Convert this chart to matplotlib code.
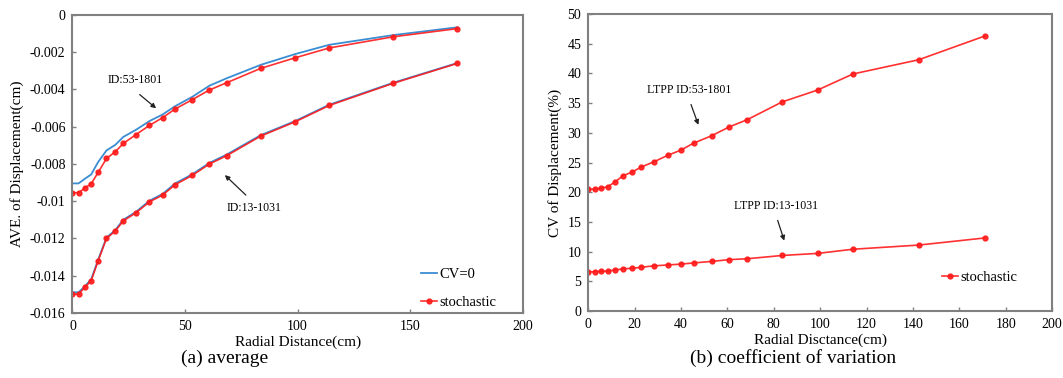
import matplotlib
matplotlib.use("Agg")
import matplotlib.pyplot as plt
import numpy as np

plt.rcParams["font.family"] = ["Liberation Serif", "DejaVu Serif"]

# radial distance of the sensors (cm)
radial = [0, 2.7, 5.5, 8.3, 11.4, 15.1, 19.0, 22.6, 28.2, 34.2, 40.0,
          45.6, 53.2, 60.8, 68.5, 83.6, 98.9, 114.1, 142.5, 171.0]

# (a) average displacement (cm)
ave_53_cv0 = [-0.00905, -0.00905, -0.00880, -0.00857, -0.00790, -0.00728,
              -0.00698, -0.00655, -0.00617, -0.00570, -0.00535, -0.00490,
              -0.00440, -0.00380, -0.00340, -0.00268, -0.00210, -0.00160,
              -0.00108, -0.00066]
ave_53_sto = [-0.00955, -0.00955, -0.00930, -0.00907, -0.00846, -0.00771,
              -0.00735, -0.00690, -0.00643, -0.00593, -0.00552, -0.00505,
              -0.00455, -0.00403, -0.00364, -0.00287, -0.00230, -0.00177,
              -0.00117, -0.00073]
ave_13_cv0 = [-0.01490, -0.01490, -0.01458, -0.01420, -0.01315, -0.01196,
              -0.01156, -0.01100, -0.01058, -0.00998, -0.00962, -0.00905,
              -0.00856, -0.00795, -0.00750, -0.00646, -0.00570, -0.00482,
              -0.00364, -0.00258]
ave_13_sto = [-0.01500, -0.01500, -0.01464, -0.01428, -0.01321, -0.01201,
              -0.01161, -0.01106, -0.01063, -0.01004, -0.00968, -0.00912,
              -0.00862, -0.00801, -0.00756, -0.00651, -0.00574, -0.00486,
              -0.00367, -0.00260]

# (b) coefficient of variation (%)
cv_53 = [20.5, 20.5, 20.7, 20.9, 21.7, 22.8, 23.4, 24.2, 25.1, 26.2, 27.1,
         28.3, 29.5, 31.0, 32.2, 35.2, 37.2, 39.9, 42.3, 46.3]
cv_13 = [6.6, 6.6, 6.7, 6.7, 6.9, 7.1, 7.2, 7.35, 7.6, 7.75, 7.9, 8.1,
         8.35, 8.65, 8.8, 9.35, 9.7, 10.4, 11.1, 12.3]

blue = "#3b8dd2"
red = "#ff1a1a"
spine_col = "#808080"

fig = plt.figure(figsize=(10.63, 3.78), dpi=100)
ax1 = fig.add_axes([0.0682, 0.1727, 0.4235, 0.7876])
ax2 = fig.add_axes([0.5534, 0.1772, 0.4363, 0.7857])

sto_kw = dict(color=red, lw=1.2, marker="o", ms=3.5, alpha=0.9)

ax1.plot(radial, ave_53_cv0, color=blue, lw=1.3, label="CV=0")
ax1.plot(radial, ave_53_sto, label="stochastic", **sto_kw)
ax1.plot(radial, ave_13_cv0, color=blue, lw=1.3)
ax1.plot(radial, ave_13_sto, **sto_kw)

ax1.set_xlim(0, 200)
ax1.set_ylim(-0.016, 0)
ax1.set_xticks([0, 50, 100, 150, 200])
ax1.set_yticks(np.arange(-0.016, 0.0001, 0.002))
ax1.set_yticklabels(["-0.016", "-0.014", "-0.012", "-0.01", "-0.008",
                     "-0.006", "-0.004", "-0.002", "0"])
ax1.set_xlabel("Radial Distance(cm)", fontsize=11, labelpad=2)
ax1.set_ylabel("AVE. of Displacement(cm)", fontsize=11, labelpad=4)

ax1.text(27.7, -0.0035, "ID:53-1801", fontsize=8.5, ha="center", va="center")
ax1.annotate("", xy=(38.1, -0.00511), xytext=(28.9, -0.00418),
             arrowprops=dict(arrowstyle="-|>", color="#222222", lw=0.9,
                             mutation_scale=7))
ax1.text(80.5, -0.01038, "ID:13-1031", fontsize=8.5, ha="center", va="center")
ax1.annotate("", xy=(66.8, -0.0085), xytext=(77.9, -0.00978),
             arrowprops=dict(arrowstyle="-|>", color="#222222", lw=0.9,
                             mutation_scale=7))

ax1.legend(loc="upper left", bbox_to_anchor=(0.774, 0.15), frameon=False,
           fontsize=10.5, handlelength=1.1, handletextpad=0.15,
           labelspacing=1.0, borderpad=0, borderaxespad=0)

ax2.plot(radial, cv_53, label="stochastic", **sto_kw)
ax2.plot(radial, cv_13, **sto_kw)

ax2.set_xlim(0, 200)
ax2.set_ylim(0, 50)
ax2.set_xticks(np.arange(0, 201, 20))
ax2.set_yticks(np.arange(0, 51, 5))
ax2.set_xlabel("Radial Disctance(cm)", fontsize=11, labelpad=2)
ax2.set_ylabel("CV of Displacement(%)", fontsize=11, labelpad=4)

ax2.text(43.4, 37.2, "LTPP ID:53-1801", fontsize=8.5, ha="center", va="center")
ax2.annotate("", xy=(47.9, 30.9), xytext=(43.9, 35.2),
             arrowprops=dict(arrowstyle="-|>", color="#222222", lw=0.9,
                             mutation_scale=7))
ax2.text(81.0, 17.7, "LTPP ID:13-1031", fontsize=8.5, ha="center", va="center")
ax2.annotate("", xy=(84.9, 11.4), xytext=(81.3, 15.7),
             arrowprops=dict(arrowstyle="-|>", color="#222222", lw=0.9,
                             mutation_scale=7))

ax2.legend(loc="center left", bbox_to_anchor=(0.762, 0.114), frameon=False,
           fontsize=10.5, handlelength=1.1, handletextpad=0.15,
           borderpad=0, borderaxespad=0)

for ax in (ax1, ax2):
    for s in ax.spines.values():
        s.set_color(spine_col)
        s.set_linewidth(1.5)
    ax.tick_params(direction="in", length=3, width=1, color=spine_col,
                   labelsize=10, pad=5)

fig.text(0.211, 0.03, "(a) average", fontsize=14, ha="center", va="bottom")
fig.text(0.746, 0.03, "(b) coefficient of variation", fontsize=14,
         ha="center", va="bottom")

fig.savefig("out.png", dpi=100)
